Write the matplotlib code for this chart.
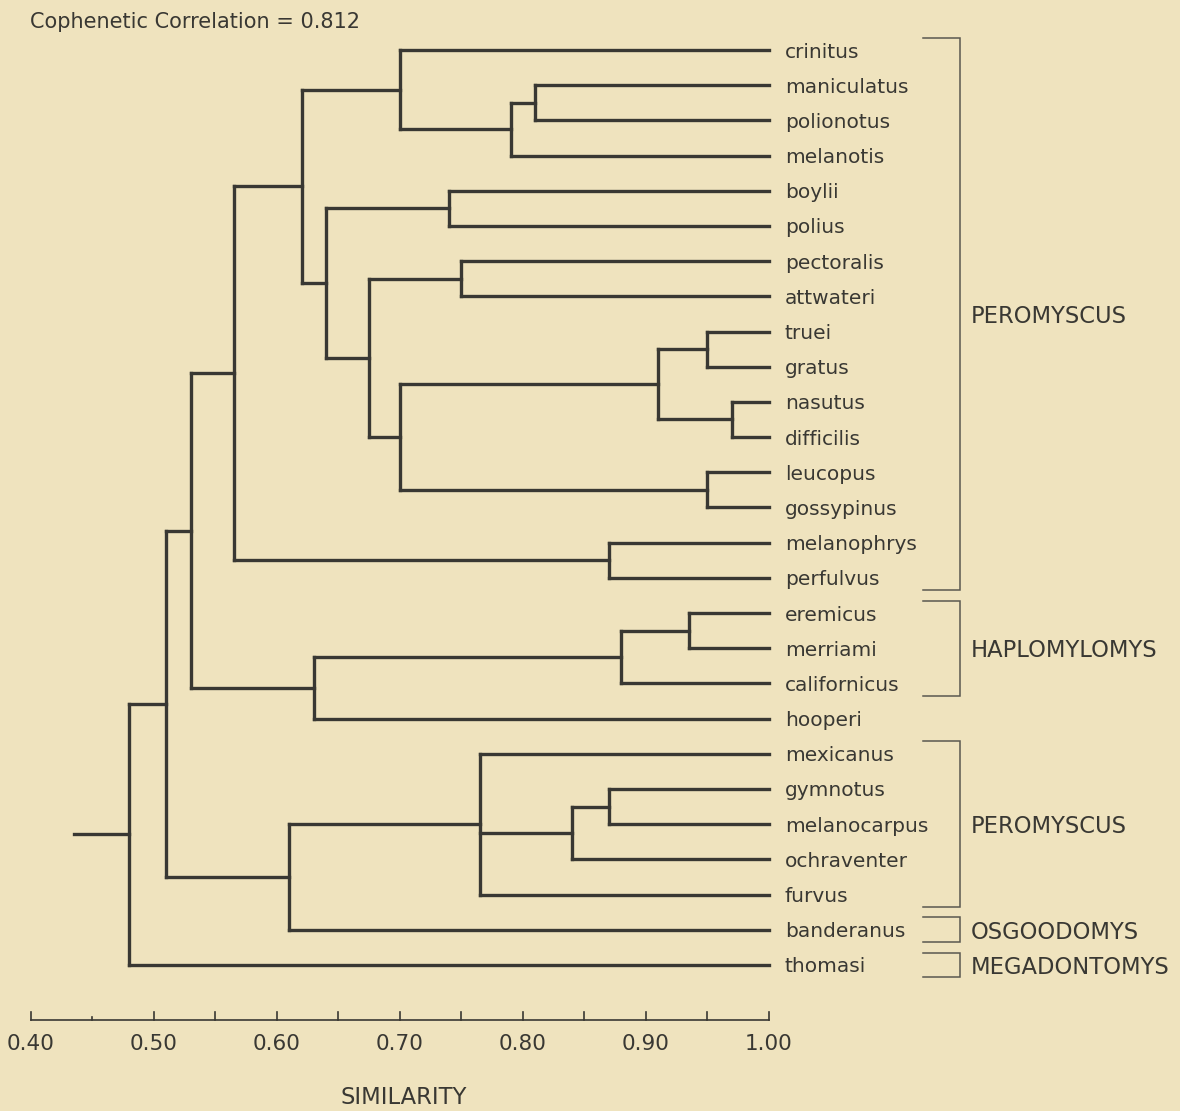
import matplotlib
matplotlib.use("Agg")
import matplotlib.pyplot as plt

# ---------------- data ----------------
leaves = ["crinitus", "maniculatus", "polionotus", "melanotis", "boylii", "polius",
          "pectoralis", "attwateri", "truei", "gratus", "nasutus", "difficilis",
          "leucopus", "gossypinus", "melanophrys", "perfulvus", "eremicus", "merriami",
          "californicus", "hooperi", "mexicanus", "gymnotus", "melanocarpus",
          "ochraventer", "furvus", "banderanus", "thomasi"]

# (node name, children, similarity at which they join)
merges = [
    ("A", ["maniculatus", "polionotus"], 0.81),
    ("B", ["A", "melanotis"], 0.79),
    ("C", ["crinitus", "B"], 0.70),
    ("D", ["boylii", "polius"], 0.74),
    ("E", ["pectoralis", "attwateri"], 0.75),
    ("F", ["truei", "gratus"], 0.95),
    ("G", ["nasutus", "difficilis"], 0.97),
    ("H", ["F", "G"], 0.91),
    ("I", ["leucopus", "gossypinus"], 0.95),
    ("J", ["H", "I"], 0.70),
    ("K", ["E", "J"], 0.675),
    ("L", ["D", "K"], 0.64),
    ("M", ["C", "L"], 0.62),
    ("N", ["melanophrys", "perfulvus"], 0.87),
    ("O", ["M", "N"], 0.565),
    ("P", ["eremicus", "merriami"], 0.935),
    ("Q", ["P", "californicus"], 0.88),
    ("R", ["Q", "hooperi"], 0.63),
    ("S", ["O", "R"], 0.53),
    ("T", ["gymnotus", "melanocarpus"], 0.87),
    ("U", ["T", "ochraventer"], 0.84),
    ("V", ["mexicanus", "U", "furvus"], 0.765),
    ("W", ["V", "banderanus"], 0.61),
    ("X", ["S", "W"], 0.51),
    ("Y", ["X", "thomasi"], 0.48),
]
root_name = "Y"
root_stem = 0.435

groups = [("PEROMYSCUS", "crinitus", "perfulvus"),
          ("HAPLOMYLOMYS", "eremicus", "californicus"),
          ("PEROMYSCUS", "mexicanus", "furvus"),
          ("OSGOODOMYS", "banderanus", "banderanus"),
          ("MEGADONTOMYS", "thomasi", "thomasi")]

ticks = [0.40, 0.45, 0.50, 0.55, 0.60, 0.65, 0.70, 0.75, 0.80, 0.85, 0.90, 0.95, 1.00]
tick_labels = ["0.40", "0.50", "0.60", "0.70", "0.80", "0.90", "1.00"]
title = "Cophenetic Correlation = 0.812"
xlabel = "SIMILARITY"

# ---------------- style ----------------
BG = "#EFE3BE"
INK = "#393833"
LW = 2.4
FONT = "DejaVu Sans"

fig = plt.figure(figsize=(11.8, 11.11), dpi=100, facecolor=BG)
ax = fig.add_axes([0, 0, 1, 1])
ax.set_facecolor(BG)
ax.axis("off")

px_per_unit = 1230.0
x0_px = 31.0
ax.set_xlim(0.40 - x0_px / px_per_unit, 0.40 + (1180 - x0_px) / px_per_unit)
spacing = 35.19
top_px = 50.0
ax.set_ylim((1111 - top_px) / spacing, -top_px / spacing)

merge_map = {name: (ch, s) for name, ch, s in merges}
leaf_idx = {name: i for i, name in enumerate(leaves)}


def seg(xs, ys, lw=LW):
    ax.plot(xs, ys, color=INK, lw=lw, solid_capstyle="projecting",
            solid_joinstyle="miter")


def draw(name):
    if name in leaf_idx:
        return 1.0, float(leaf_idx[name])
    children, s = merge_map[name]
    pts = [draw(c) for c in children]
    ys = [p[1] for p in pts]
    for cx, cy in pts:
        seg([cx, s], [cy, cy])
    seg([s, s], [min(ys), max(ys)])
    return s, (min(ys) + max(ys)) / 2.0


rx, ry = draw(root_name)
seg([root_stem, rx], [ry, ry])

# leaf labels
for i, name in enumerate(leaves):
    ax.text(1.013, i, name, fontsize=14.5, family=FONT, color=INK,
            ha="left", va="center_baseline")

# group brackets
bx_left, bx_right = 1.125, 1.155
for label, first, last in groups:
    a = leaf_idx[first] - 0.35
    b = leaf_idx[last] + 0.35
    ax.plot([bx_left, bx_right, bx_right, bx_left], [a, a, b, b],
            color="#5a5850", lw=1.1, solid_joinstyle="miter")
    ax.text(1.164, (leaf_idx[first] + leaf_idx[last]) / 2.0, label,
            fontsize=16.3, family=FONT, color=INK, ha="left",
            va="center_baseline")

# similarity axis
axis_y = (1020 - top_px) / spacing
tick_len = 8 / spacing
seg([ticks[0], ticks[-1]], [axis_y, axis_y], lw=1.2)
for t in ticks:
    L = tick_len * (0.4 if abs(t - 0.45) < 1e-9 else 1.0)
    ax.plot([t, t], [axis_y, axis_y - L], color=INK, lw=1.2)
for lab in tick_labels:
    ax.text(float(lab), (1044 - top_px) / spacing, lab, fontsize=15.5,
            family=FONT, color=INK, ha="center", va="center")

ax.text(0.40 + (404 - x0_px) / px_per_unit, (1097 - top_px) / spacing, xlabel,
        fontsize=16.3, family=FONT, color=INK, ha="center", va="center")
ax.text(0.40 + (30 - x0_px) / px_per_unit, (22 - top_px) / spacing, title,
        fontsize=15, family=FONT, color=INK, ha="left", va="center")

fig.savefig("out.png", dpi=100, facecolor=BG)
